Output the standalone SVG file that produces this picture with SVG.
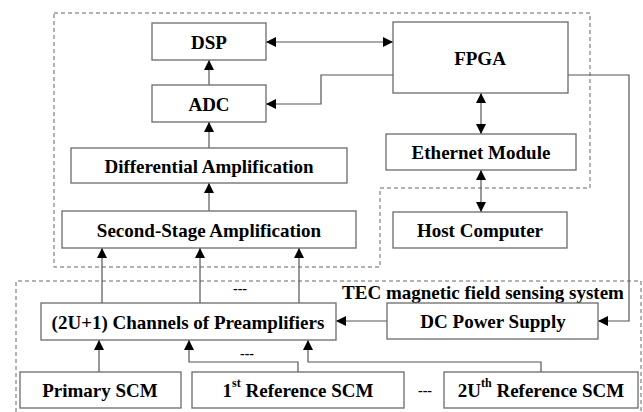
<svg xmlns="http://www.w3.org/2000/svg" width="643" height="412" viewBox="0 0 643 412">
<style>
.box{fill:#fff;stroke:#6b6b6b;stroke-width:1.3}
.t{font-family:"Liberation Serif","Times New Roman",serif;font-weight:bold;font-size:19px;fill:#000;text-anchor:middle;dominant-baseline:central}
.sup{font-size:12px}
.ln{fill:none;stroke:#555;stroke-width:1.2}
.dash{fill:none;stroke:#666;stroke-width:1;stroke-dasharray:4,3}
.dots{font-size:14px}
</style>
<defs>
<marker id="ah" viewBox="0 0 10 10" refX="10" refY="5" markerWidth="10" markerHeight="10" markerUnits="userSpaceOnUse" orient="auto-start-reverse">
<path d="M0,0 L10,5 L0,10 z" fill="#000"/>
</marker>
</defs>
<g id="frames">
<path class="dash" d="M54,13 H590 V188 H380 V267 H54 Z"/>
<path class="dash" d="M16,412 V281 H641 V412"/>
<text class="t" x="483" y="292">TEC magnetic field sensing system</text>
</g>
<g id="connectors">
<path class="ln" d="M266,42 H393" marker-start="url(#ah)" marker-end="url(#ah)"/>
<path class="ln" d="M393,75 H321 V104 H266" marker-end="url(#ah)"/>
<path class="ln" d="M209,85 V60" marker-end="url(#ah)"/>
<path class="ln" d="M209,148 V122" marker-end="url(#ah)"/>
<path class="ln" d="M209,211 V183" marker-end="url(#ah)"/>
<path class="ln" d="M481,93 V134" marker-start="url(#ah)" marker-end="url(#ah)"/>
<path class="ln" d="M481,170 V212" marker-start="url(#ah)" marker-end="url(#ah)"/>
<path class="ln" d="M568,75 H629 V321 H598" marker-end="url(#ah)"/>
<path class="ln" d="M387,321 H336" marker-end="url(#ah)"/>
<path class="ln" d="M102,303 V248" marker-end="url(#ah)"/>
<path class="ln" d="M200,303 V248" marker-end="url(#ah)"/>
<path class="ln" d="M299,303 V248" marker-end="url(#ah)"/>
<path class="ln" d="M99,372 V340" marker-end="url(#ah)"/>
<path class="ln" d="M298,372 V362 H189 V340" marker-end="url(#ah)"/>
<path class="ln" d="M541,372 V362 H308 V340" marker-end="url(#ah)"/>
<text class="t dots" x="240" y="288">---</text>
<text class="t dots" x="247" y="353">---</text>
<text class="t dots" x="425" y="390">---</text>
</g>
<g id="dsp"><rect class="box" x="152" y="23" width="114" height="37"/><text class="t" x="209" y="42">DSP</text></g>
<g id="adc"><rect class="box" x="152" y="85" width="114" height="37"/><text class="t" x="209" y="104">ADC</text></g>
<g id="diff"><rect class="box" x="71" y="148" width="276" height="35"/><text class="t" x="209" y="166">Differential Amplification</text></g>
<g id="second"><rect class="box" x="62" y="211" width="294" height="37"/><text class="t" x="209" y="230">Second-Stage Amplification</text></g>
<g id="fpga"><rect class="box" x="393" y="22" width="175" height="71"/><text class="t" x="480" y="58">FPGA</text></g>
<g id="ethernet"><rect class="box" x="386" y="134" width="190" height="36"/><text class="t" x="481" y="152">Ethernet Module</text></g>
<g id="host"><rect class="box" x="393" y="212" width="174" height="36"/><text class="t" x="480" y="230">Host Computer</text></g>
<g id="preamp"><rect class="box" x="41" y="303" width="295" height="37"/><text class="t" x="188" y="322">(2U+1) Channels of Preamplifiers</text></g>
<g id="dc"><rect class="box" x="387" y="303" width="211" height="36"/><text class="t" x="493" y="321">DC Power Supply</text></g>
<g id="primary"><rect class="box" x="20" y="372" width="161" height="36"/><text class="t" x="100" y="390">Primary SCM</text></g>
<g id="ref1"><rect class="box" x="192" y="372" width="212" height="36"/><text class="t" x="298" y="390">1<tspan class="sup" dy="-7">st</tspan><tspan dy="7"> Reference SCM</tspan></text></g>
<g id="ref2u"><rect class="box" x="444" y="372" width="194" height="36"/><text class="t" x="541" y="390">2U<tspan class="sup" dy="-7">th</tspan><tspan dy="7"> Reference SCM</tspan></text></g>
</svg>
